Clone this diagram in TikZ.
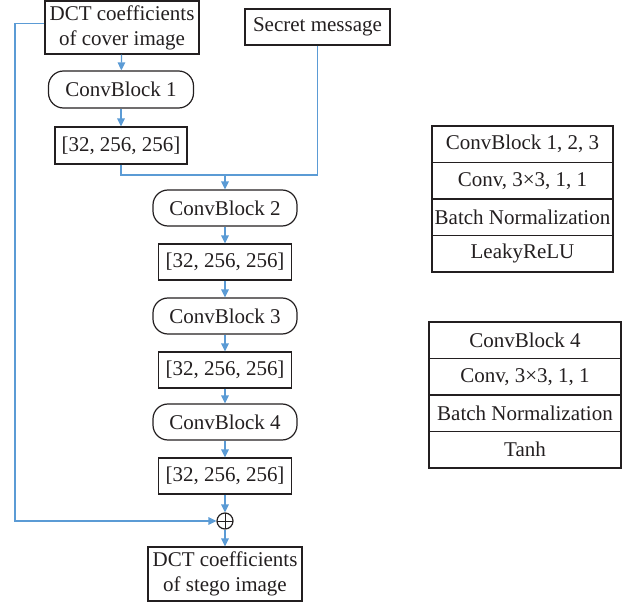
\documentclass[tikz,border=0pt]{standalone}
\usepackage{fontspec}
\setmainfont{Liberation Serif}
\usetikzlibrary{arrows.meta}
\definecolor{flowblue}{RGB}{91,155,213}
\definecolor{ink}{RGB}{35,31,32}
\begin{document}
\begin{tikzpicture}[x=1pt,y=-1pt,
  every node/.style={font=\fontsize{21}{25}\selectfont, text=ink},
  box/.style={draw=ink, line width=1.2pt, inner sep=0pt, align=center},
  rbox/.style={box, rounded corners=15pt},
  cell/.style={box, minimum height=36.5pt},
  flow/.style={draw=flowblue, line width=1.3pt},
  arr/.style={flow, -{Triangle[length=8pt,width=7.5pt]}}]
\useasboundingbox (0,0) rectangle (633,602);

% main chain
\node[box, minimum width=154pt, minimum height=53pt] (cover) at (122,27.5) {DCT coefficients\\of cover image};
\node[box, minimum width=145pt, minimum height=36pt] (secret) at (317.5,27) {Secret message};
\node[rbox, minimum width=145pt, minimum height=37pt] (cb1) at (121,89.5) {ConvBlock 1};
\node[box, minimum width=132pt, minimum height=37pt] (s1) at (121,145.5) {[32, 256, 256]};
\node[rbox, minimum width=144pt, minimum height=36pt] (cb2) at (225,208) {ConvBlock 2};
\node[box, minimum width=133pt, minimum height=36pt] (s2) at (225,262) {[32, 256, 256]};
\node[rbox, minimum width=144pt, minimum height=36pt] (cb3) at (225,316) {ConvBlock 3};
\node[box, minimum width=133pt, minimum height=36pt] (s3) at (225,370) {[32, 256, 256]};
\node[rbox, minimum width=144pt, minimum height=36pt] (cb4) at (225,422) {ConvBlock 4};
\node[box, minimum width=133pt, minimum height=36pt] (s4) at (225,476) {[32, 256, 256]};
\node[draw=ink, line width=1.2pt, circle, minimum size=16pt, inner sep=0pt,
  path picture={\draw[ink, line width=1pt]
    (path picture bounding box.north) -- (path picture bounding box.south)
    (path picture bounding box.west) -- (path picture bounding box.east);}] (plus) at (225,521) {};
\node[box, minimum width=154pt, minimum height=54pt] (stego) at (225,574) {DCT coefficients\\of stego image};

\coordinate (merge) at (225,175);
\coordinate (fb) at (15,521);

% connectors
\draw[arr] (cover) -- (cb1);
\draw[arr] (cb1) -- (s1);
\draw[flow] (s1.south) |- (merge);
\draw[flow] (secret.south) |- (merge);
\draw[arr] (merge) -- (cb2.north);
\draw[arr] (cb2) -- (s2);
\draw[arr] (s2) -- (cb3);
\draw[arr] (cb3) -- (s3);
\draw[arr] (s3) -- (cb4);
\draw[arr] (cb4) -- (s4);
\draw[arr] (s4) -- (plus);
\draw[arr] (plus) -- (stego);
\draw[arr] ([yshift=4pt]cover.west) -| (fb) -- (plus.west);

% block legends
\node[cell, minimum width=181pt] (a1) at (522.5,144.25) {ConvBlock 1, 2, 3};
\node[cell, minimum width=181pt] (a2) at (522.5,180.75) {Conv, 3\texttimes3, 1, 1};
\node[cell, minimum width=181pt] (a3) at (522.5,217.25) {Batch Normalization};
\node[cell, minimum width=181pt] (a4) at (522.5,253.75) {LeakyReLU};

\node[cell, minimum width=192pt] (b1) at (525,340.25) {ConvBlock 4};
\node[cell, minimum width=192pt] (b2) at (525,376.75) {Conv, 3\texttimes3, 1, 1};
\node[cell, minimum width=192pt] (b3) at (525,413.25) {Batch Normalization};
\node[cell, minimum width=192pt] (b4) at (525,449.75) {Tanh};
\end{tikzpicture}
\end{document}
